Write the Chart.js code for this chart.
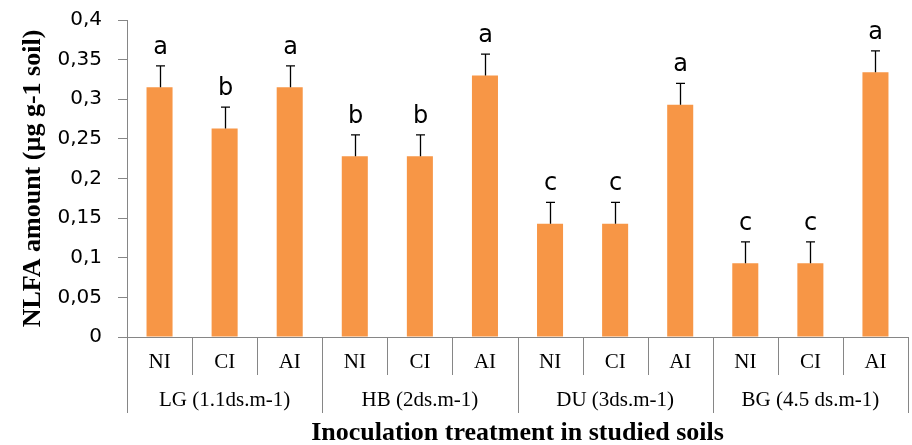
<!DOCTYPE html>
<html><head><meta charset="utf-8">
<script src="https://cdn.jsdelivr.net/npm/chart.js@4"></script>
<style>html,body{margin:0;padding:0;background:#fff}</style>
</head><body>
<canvas id="c" width="912" height="445"></canvas>
<script>
const soils = ["LG (1.1ds.m-1)", "HB (2ds.m-1)", "DU (3ds.m-1)", "BG (4.5 ds.m-1)"];
const treatments = ["NI", "CI", "AI"];
const nlfa = [0.315, 0.263, 0.315, 0.228, 0.228, 0.330, 0.143, 0.143, 0.293, 0.093, 0.093, 0.334];
const errs = [0.027, 0.027, 0.027, 0.027, 0.027, 0.027, 0.027, 0.027, 0.027, 0.027, 0.027, 0.027];
const letters = ["a", "b", "a", "b", "b", "a", "c", "c", "a", "c", "c", "a"];
const yTicks = [0, 0.05, 0.1, 0.15, 0.2, 0.25, 0.3, 0.35, 0.4];
const yTitle = "NLFA amount (µg g-1 soil)";
const xTitle = "Inoculation treatment in studied soils";

const labels = [];
soils.forEach(() => treatments.forEach(t => labels.push(t)));

const axisColor = '#868686';

const extras = {
  id: 'extras',
  afterDatasetsDraw(chart) {
    const ctx = chart.ctx, x = chart.scales.x, y = chart.scales.y;
    ctx.save();
    ctx.strokeStyle = '#000';
    ctx.lineWidth = 1.3;
    ctx.fillStyle = '#000';
    ctx.font = '24px "DejaVu Sans"';
    ctx.textAlign = 'center';
    ctx.textBaseline = 'alphabetic';
    nlfa.forEach((v, i) => {
      const px = Math.round(x.getPixelForValue(i)) + 0.5;
      const y0 = y.getPixelForValue(v);
      const y1 = y.getPixelForValue(v + errs[i]);
      ctx.beginPath();
      ctx.moveTo(px, y0); ctx.lineTo(px, y1);
      ctx.moveTo(px - 4.5, y1); ctx.lineTo(px + 4.5, y1);
      ctx.stroke();
      ctx.fillText(letters[i], px, y1 - 12);
    });
    ctx.restore();
  },
  afterDraw(chart) {
    const ctx = chart.ctx, x = chart.scales.x, ca = chart.chartArea;
    const n = labels.length;
    const catW = (ca.right - ca.left) / n;
    const base = ca.bottom;
    ctx.save();
    ctx.strokeStyle = axisColor;
    ctx.lineWidth = 1;
    for (let i = 0; i <= n; i++) {
      const px = Math.round(ca.left + i * catW) + 0.5;
      ctx.beginPath();
      ctx.moveTo(px, base);
      ctx.lineTo(px, i % 3 === 0 ? base + 76 : base + 38);
      ctx.stroke();
    }
    ctx.fillStyle = '#000';
    ctx.textAlign = 'center';
    ctx.textBaseline = 'middle';
    ctx.font = '21px "Liberation Serif"';
    labels.forEach((l, i) => ctx.fillText(l, x.getPixelForValue(i), base + 25));
    ctx.font = '21px "Liberation Serif"';
    soils.forEach((s, g) => {
      const cx = ca.left + (g * 3 + 1.5) * catW;
      ctx.fillText(s, cx, base + 63);
    });
    ctx.font = 'bold 26px "Liberation Serif"';
    ctx.fillText(xTitle, (ca.left + ca.right) / 2, base + 96);
    ctx.font = 'bold 26px "Liberation Serif"';
    ctx.translate(33, (ca.top + ca.bottom) / 2);
    ctx.rotate(-Math.PI / 2);
    ctx.fillText(yTitle, 0, 0);
    ctx.restore();
  }
};

new Chart(document.getElementById('c'), {
  type: 'bar',
  data: {
    labels: labels,
    datasets: [{
      data: nlfa,
      backgroundColor: '#F79646',
      borderWidth: 0,
      barPercentage: 0.4,
      categoryPercentage: 1.0
    }]
  },
  options: {
    responsive: false,
    animation: false,
    devicePixelRatio: 1,
    layout: { padding: { top: 20, right: 4, left: 0, bottom: 0 } },
    plugins: { legend: { display: false }, tooltip: { enabled: false } },
    scales: {
      x: {
        ticks: { display: false },
        grid: { display: false },
        border: { display: true, color: axisColor, width: 1 },
        afterFit: s => { s.height = 108; }
      },
      y: {
        min: 0, max: 0.4,
        afterBuildTicks: s => { s.ticks = yTicks.map(v => ({ value: v })); },
        ticks: {
          padding: 16,
          color: '#000',
          font: { family: 'DejaVu Sans', size: 20 },
          callback: v => String(Number(v.toFixed(2))).replace('.', ',')
        },
        grid: { display: true, drawOnChartArea: false, drawTicks: true, tickLength: 9, color: axisColor },
        border: { display: true, color: axisColor, width: 1 },
        afterFit: s => { s.width = 127; s.paddingTop = 0; s.paddingBottom = 0; }
      }
    }
  },
  plugins: [extras]
});
</script>
</body></html>
